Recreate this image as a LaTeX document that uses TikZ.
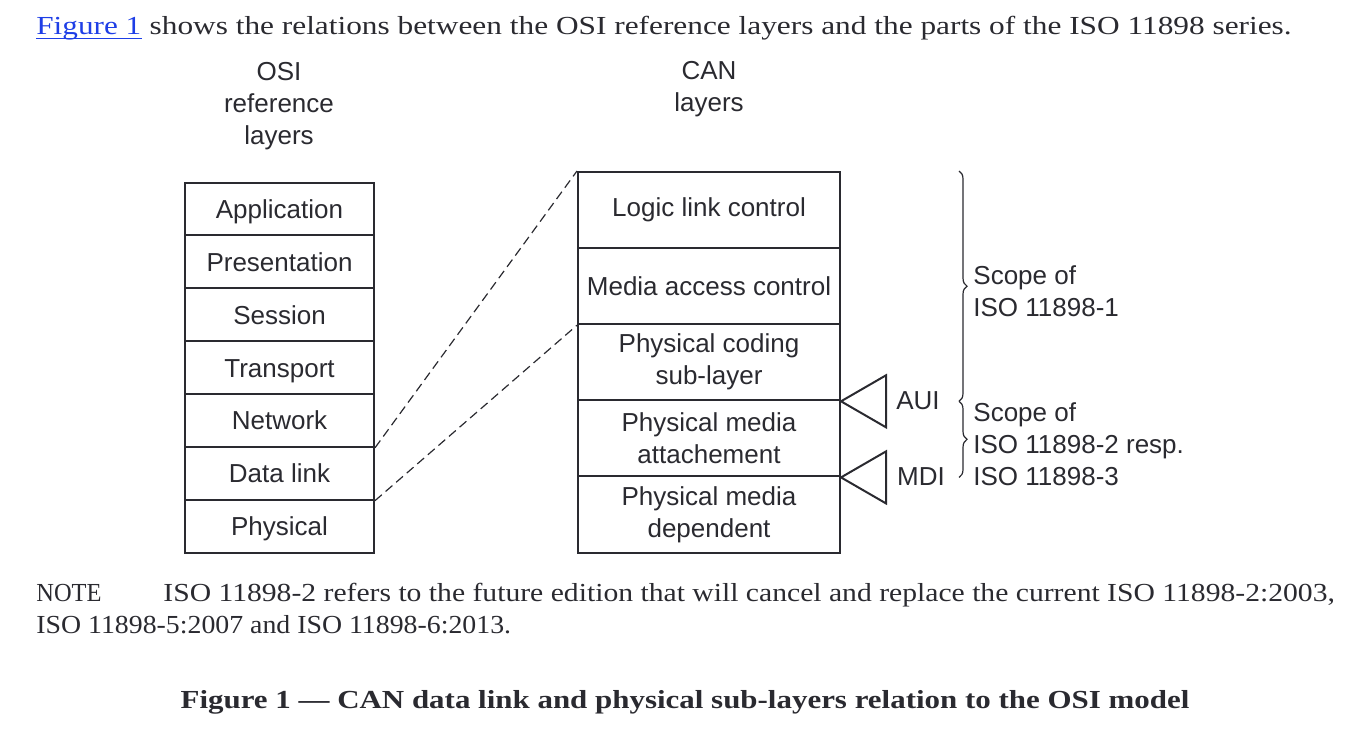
\documentclass[tikz,border=0pt]{standalone}
\usepackage{fontspec}
\setmainfont{Liberation Serif}
\setsansfont{Liberation Sans}
\usetikzlibrary{decorations.pathreplacing}
\definecolor{inkgray}{RGB}{42,42,48}
\definecolor{linkblue}{RGB}{30,62,230}

\begin{document}
\begin{tikzpicture}[x=0.5pt,y=-0.5pt,
    body/.style={inner sep=0pt, text=inkgray, font=\fontsize{13}{16}\selectfont},
    osibox/.style={draw=inkgray, line width=1pt, minimum width=94.5pt,
      minimum height=26.43pt, inner sep=0pt, text height=11pt, text depth=1.4pt,
      text=inkgray, font=\sffamily\fontsize{13}{16}\selectfont},
    canbox/.style={draw=inkgray, line width=1pt, minimum width=131pt,
      minimum height=38.05pt, inner sep=0pt, align=center,
      text=inkgray, font=\sffamily\fontsize{13}{16}\selectfont},
    lbl/.style={inner sep=0pt, align=center, text=inkgray,
      font=\sffamily\fontsize{13}{16}\selectfont},
    link/.style={draw=inkgray, line width=0.6pt, dash pattern=on 4.5pt off 2.5pt},
    plug/.style={draw=inkgray, line width=1pt},
    scopebrace/.style={draw=inkgray, line width=0.6pt,
      decoration={brace, amplitude=4pt}, decorate}
  ]
    \useasboundingbox (0,0) rectangle (1368,728);

    % Intro line
    \node[body, anchor=base west, text=linkblue] (figref) at (36,34) {\scalebox{1.2}[1]{Figure 1}};
    \draw[linkblue, line width=0.6pt] ([yshift=-2.4pt]figref.base west) -- ([yshift=-2.4pt]figref.base east);
    \node[body, anchor=base west] (intro) at ([xshift=3.8pt]figref.base east)
      {\scalebox{1.205}[1]{shows the relations between the OSI reference layers and the parts of the ISO 11898 series.}};

    % Column headings
    \node[lbl] (osihead) at (279,106) {OSI\\reference\\layers};
    \node[lbl] (canhead) at (709,89) {CAN\\layers};

    % OSI reference layers
    \node[osibox] (app) at (279.5,208.93) {Application};
    \node[osibox] (pres) at (279.5,261.79) {Presentation};
    \node[osibox] (sess) at (279.5,314.65) {Session};
    \node[osibox] (trans) at (279.5,367.51) {Transport};
    \node[osibox] (net) at (279.5,420.37) {Network};
    \node[osibox] (dlink) at (279.5,473.23) {Data link};
    \node[osibox] (phys) at (279.5,526.09) {Physical};

    % CAN layers
    \node[canbox] (llc) at (709,210.05) {Logic link control};
    \node[canbox] (mac) at (709,286.15) {Media access control};
    \node[canbox] (pcs) at (709,362.25) {Physical coding\\sub-layer};
    \node[canbox] (pma) at (709,438.35) {Physical media\\attachement};
    \node[canbox] (pmd) at (709,514.45) {Physical media\\dependent};

    % Dashed relations
    \draw[link] (net.south east) -- (llc.north west);
    \draw[link] (dlink.south east) -- (mac.south west);

    % Interfaces
    \draw[plug] (pcs.south east) -- ++(45,-26) -- ++(0,52) -- cycle;
    \draw[plug] (pma.south east) -- ++(45,-26) -- ++(0,52) -- cycle;
    \node[lbl] (aui) at (918,401) {AUI};
    \node[lbl] (mdi) at (921,477) {MDI};

    % Scopes
    \draw[scopebrace] ([xshift=59pt]llc.north east) -- ([xshift=59pt]pcs.south east);
    \draw[scopebrace] ([xshift=59pt]pcs.south east) -- ([xshift=59pt]pma.south east);
    \node[lbl, align=left, anchor=west] (scope1) at (973,291) {Scope of\\ISO 11898-1};
    \node[lbl, align=left, anchor=west] (scope2) at (973,444) {Scope of\\ISO 11898-2 resp.\\ISO 11898-3};

    % Note
    \node[body, anchor=base west] (notelabel) at (36,601) {\scalebox{0.94}[1]{NOTE}};
    \node[body, anchor=base west] (note1) at (163,601)
      {\scalebox{1.14}[1]{ISO 11898-2 refers to the future edition that will cancel and replace the current ISO 11898-2:2003,}};
    \node[body, anchor=base west] (note2) at (36,633) {\scalebox{1.07}[1]{ISO 11898-5:2007 and ISO 11898-6:2013.}};

    % Caption
    \node[body, anchor=base, font=\bfseries\fontsize{13}{16}\selectfont] (caption) at (685,708)
      {\scalebox{1.19}[1]{Figure 1 — CAN data link and physical sub-layers relation to the OSI model}};
\end{tikzpicture}
\end{document}
